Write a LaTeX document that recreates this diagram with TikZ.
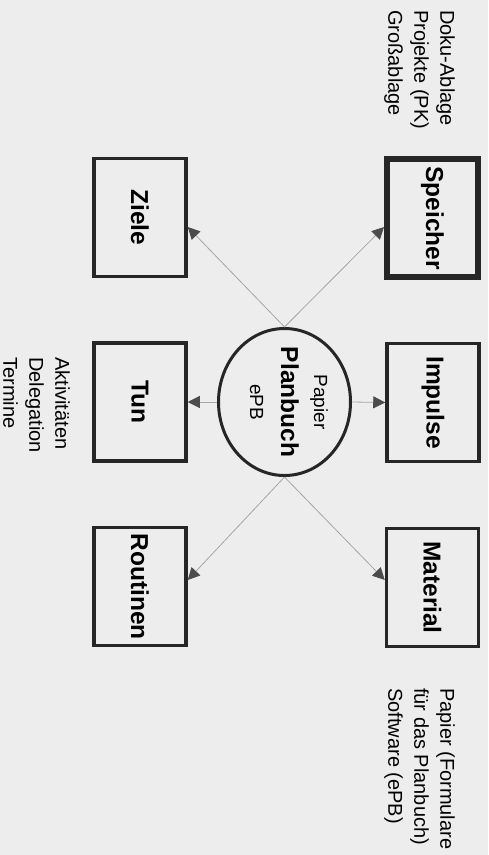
\documentclass[tikz,border=0pt]{standalone}
\usepackage{fontspec}
\setmainfont{Liberation Sans}
\usetikzlibrary{arrows.meta,shapes.geometric,calc}
\tikzset{
  box/.style={draw=black!85, line width=3.5pt, minimum width=118pt, minimum height=92pt,
    inner sep=0pt, font=\fontsize{24.5}{28}\selectfont\bfseries},
  note/.style={anchor=north west, inner sep=0pt, align=left, font=\fontsize{20}{26}\selectfont},
  link/.style={draw=black!35, line width=0.8pt, -{Triangle[length=12pt,width=12pt,color=black!70]}}
}
\begin{document}
\begin{tikzpicture}[x=1pt,y=1pt]
\begin{scope}[rotate=-90, transform shape]
\fill[black!7] (0,0) rectangle (855,488);
\useasboundingbox (0,0) rectangle (855,488);
% obere Reihe
\node[box, line width=6pt, minimum width=118pt, minimum height=91pt] (speicher) at (218,432.5) {Speicher};
\node[box] (impulse) at (402.5,433) {Impulse};
\node[box] (material) at (587.5,432.5) {Material};
% untere Reihe
\node[box] (ziele) at (217.5,140) {Ziele};
\node[box] (tun) at (402,140) {Tun};
\node[box] (routinen) at (586.5,140) {Routinen};
% Mitte
\node[draw=black!85, ellipse, line width=3pt, minimum width=147pt, minimum height=132pt,
    inner sep=0pt] (plan) at (402,284.5) {};
\node[anchor=base, font=\fontsize{19}{23}\selectfont] (papier) at (402,314) {Papier};
\node[anchor=base, font=\fontsize{24.5}{28}\selectfont\bfseries] (planbuch) at (402,281) {Planbuch};
\node[anchor=base, font=\fontsize{19}{23}\selectfont] (epb) at (402,250) {ePB};
\draw[link] (plan.west) -- ($(speicher.south)+(9,0)$);
\draw[link] (plan.west) -- ($(ziele.north)+(9.5,0)$);
\draw[link] (plan.north) -- (impulse.south);
\draw[link] (plan.south) -- (tun.north);
\draw[link] (plan.east) -- ($(material.south)+(-7.5,0)$);
\draw[link] (plan.east) -- ($(routinen.north)+(-6.5,0)$);
% Notizen
\node[note] (ablage) at (10,455) {Doku-Ablage\\Projekte (PK)\\Großablage};
\node[note] (formulare) at (688,455) {Papier (Formulare\\für das Planbuch)\\Software (ePB)};
\node[note] (aufgaben) at (357,70) {Aktivitäten\\Delegation\\Termine};
\end{scope}
\end{tikzpicture}
\end{document}
